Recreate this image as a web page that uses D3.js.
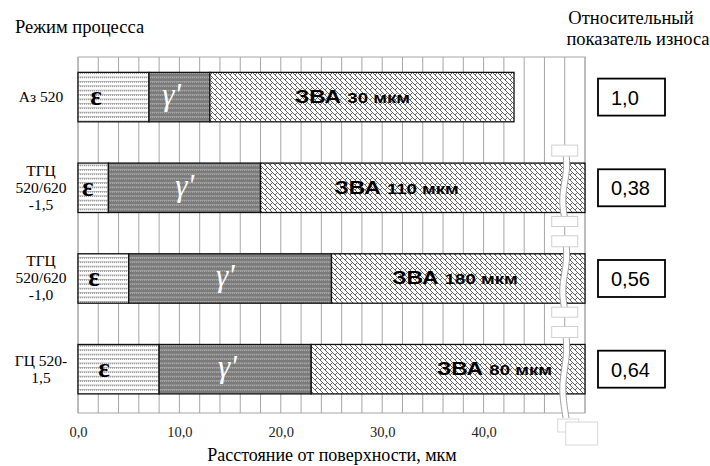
<!DOCTYPE html>
<html>
<head>
<meta charset="utf-8">
<script src="https://cdn.jsdelivr.net/npm/d3@7"></script>
<style>
  body { margin: 0; background: #fff; }
</style>
</head>
<body>
<div id="chart"></div>
<script>
// Data
var modes = ["Аз 520", "ТГЦ 520/620 -1,5", "ТГЦ 520/620 -1,0", "ГЦ 520-1,5"];
var modeLines = [["Аз 520"], ["ТГЦ", "520/620", "-1,5"], ["ТГЦ", "520/620", "-1,0"], ["ГЦ 520-", "1,5"]];
var epsEnd = [7.0, 3.0, 5.0, 8.0];        // ε layer, мкм
var gammaEnd = [13.0, 18.0, 25.0, 23.0];  // γ' layer end, мкм
var zvaEnd = [43.0, 50, 50, 50];          // ЗВА end (last three are broken)
var zvaLabel = ["30 мкм", "110 мкм", "180 мкм", "80 мкм"];
var broken = [false, true, true, true];
var wearIndex = ["1,0", "0,38", "0,56", "0,64"];
// where labels sit, in axis units
var epsAt = [1.2, 0.4, 1.0, 2.0];
var gammaAt = [8.3, 9.6, 13.6, 13.8];
var zvaAt = [21.4, 25.3, 31.0, 35.4];
var xTicks = [0, 10, 20, 30, 40];

var SERIF = "'Liberation Serif', 'Times New Roman', 'DejaVu Serif', serif",
    SANS = "'Liberation Sans', Arial, sans-serif";

var width = 710,
    height = 466;

var svg = d3.select("#chart")
            .append("svg")
              .attr("width", width)
              .attr("height", height);

var x = d3.scaleLinear()
          .domain([0, 50])
          .range([78, 585]);

var y = d3.scaleBand()
          .domain(modes)
          .range([57, 413])
          .paddingInner(0.455)
          .paddingOuter(0.19)
          .align(0.446);

// Patterns
var defs = svg.append("defs");

function dashPattern(id, bg, fg) {
  var p = defs.append("pattern")
              .attr("id", id)
              .attr("patternUnits", "userSpaceOnUse")
              .attr("width", 4)
              .attr("height", 4.4);
  p.append("rect").attr("width", 4).attr("height", 4.4).attr("fill", bg);
  p.append("path")
    .attr("d", "M0,3.2 L1.4,1.8 M2,3.2 L3.4,1.8")
    .attr("stroke", fg)
    .attr("stroke-width", 1);
}
dashPattern("pEps", "#ffffff", "#7a7a7a");
dashPattern("pGamma", "#7a7a7a", "#b8b8b8");

var pz = defs.append("pattern")
             .attr("id", "pZva")
             .attr("patternUnits", "userSpaceOnUse")
             .attr("width", 5)
             .attr("height", 5);
pz.append("rect").attr("width", 5).attr("height", 5).attr("fill", "#ffffff");
pz.append("path")
  .attr("d", "M0,0 L5,5 M-1,4 L1,6 M4,-1 L6,1 M0,5 L2.5,2.5")
  .attr("stroke", "#555")
  .attr("stroke-width", 0.9);

// Grid
svg.append("g")
  .selectAll("line")
  .data(d3.range(0, 51, 2))
  .enter()
  .append("line")
    .attr("x1", function(d) { return x(d); })
    .attr("x2", function(d) { return x(d); })
    .attr("y1", 57)
    .attr("y2", 413)
    .attr("stroke", "#a6a6a6")
    .attr("stroke-width", 1);

svg.append("rect")
  .attr("x", x(0))
  .attr("y", 57)
  .attr("width", x(50) - x(0))
  .attr("height", 356)
  .attr("fill", "none")
  .attr("stroke", "#a6a6a6");

// Bars
var segs = [];
modes.forEach(function(m, i) {
  segs.push({mode: m, x0: 0, x1: epsEnd[i], fill: "url(#pEps)"});
  segs.push({mode: m, x0: epsEnd[i], x1: gammaEnd[i], fill: "url(#pGamma)"});
  segs.push({mode: m, x0: gammaEnd[i], x1: zvaEnd[i], fill: "url(#pZva)"});
});

svg.append("g")
  .selectAll("rect")
  .data(segs)
  .enter()
  .append("rect")
    .attr("x", function(d) { return x(d.x0); })
    .attr("y", function(d) { return y(d.mode); })
    .attr("width", function(d) { return x(d.x1) - x(d.x0); })
    .attr("height", y.bandwidth())
    .attr("fill", function(d) { return d.fill; })
    .attr("stroke", "#111")
    .attr("stroke-width", 1.3);

// Labels inside bars
var cy = function(i) { return y(modes[i]) + y.bandwidth() / 2; };

svg.append("g")
  .selectAll("text")
  .data(modes)
  .enter()
  .append("text")
    .attr("x", function(d, i) { return x(epsAt[i]); })
    .attr("y", function(d, i) { return cy(i) + 8; })
    .attr("font-family", SERIF)
    .attr("font-size", 27)
    .attr("font-weight", "bold")
    .text("ε");

svg.append("g")
  .selectAll("text")
  .data(modes)
  .enter()
  .append("text")
    .attr("x", function(d, i) { return x(gammaAt[i]); })
    .attr("y", function(d, i) { return cy(i) + 8; })
    .attr("font-family", SERIF)
    .attr("font-size", 31)
    .attr("font-style", "italic")
    .attr("fill", "#fff")
    .text("γ'");

var zva = svg.append("g")
  .selectAll("text")
  .data(modes)
  .enter()
  .append("text")
    .attr("transform", function(d, i) { return "translate(" + x(zvaAt[i]) + "," + (cy(i) + 6) + ") scale(1.2,1)"; })
    .attr("font-family", SANS)
    .attr("font-weight", "bold");
zva.append("tspan").attr("font-size", 19).text("ЗВА ");
zva.append("tspan").attr("font-size", 15.5).text(function(d, i) { return zvaLabel[i]; });

// Axis break marks
var line = d3.line().curve(d3.curveBasis);
var xb = x(48);
modes.forEach(function(m, i) {
  if (!broken[i]) return;
  var top = y(m) - 18,
      bot = y(m) + y.bandwidth() + 14;
  if (i == modes.length - 1) bot = 418;
  var n = 8, left = [], right = [];
  for (var k = 0; k <= n; k++) {
    var yy = top + (bot - top) * k / n;
    var w = Math.sin(k / n * Math.PI * 2.2) * 2.2;
    left.push([xb - 3 + w, yy]);
    right.push([xb + 3 + w, yy]);
  }
  var g = svg.append("g");
  g.append("path")
    .attr("d", line(left.concat(right.slice().reverse())) + "Z")
    .attr("fill", "#fff")
    .attr("stroke", "none");
  g.append("path").attr("d", line(left)).attr("fill", "none").attr("stroke", "#a0a0a0");
  g.append("path").attr("d", line(right)).attr("fill", "none").attr("stroke", "#a0a0a0");
  g.append("rect")
    .attr("x", xb - 13).attr("y", top).attr("width", 26).attr("height", 11)
    .attr("fill", "#fff").attr("stroke", "#d0d0d0");
  if (i == modes.length - 1) {
    g.append("rect")
      .attr("x", xb - 7).attr("y", 419).attr("width", 21).attr("height", 13)
      .attr("fill", "#fff").attr("stroke", "#d8d8d8");
    g.append("rect")
      .attr("x", xb + 1).attr("y", 422).attr("width", 32).attr("height", 23)
      .attr("fill", "#fff").attr("stroke", "#d8d8d8");
  } else {
    g.append("rect")
      .attr("x", xb - 13).attr("y", y(m) + y.bandwidth() + 4).attr("width", 26).attr("height", 10)
      .attr("fill", "#fff").attr("stroke", "#d0d0d0");
  }
});

// Category labels
var cat = svg.append("g")
  .selectAll("text")
  .data(modes)
  .enter()
  .append("text")
    .attr("text-anchor", "middle")
    .attr("font-family", SERIF)
    .attr("font-size", 15.5);
cat.each(function(d, i) {
  var lines = modeLines[i];
  var t = d3.select(this);
  lines.forEach(function(l, k) {
    t.append("tspan")
      .attr("x", 41)
      .attr("y", cy(i) + 5 + (k - (lines.length - 1) / 2) * 17)
      .text(l);
  });
});

// X axis
var axis = svg.append("g")
  .attr("transform", "translate(0,424)")
  .call(d3.axisBottom(x)
          .tickValues(xTicks)
          .tickSize(0)
          .tickFormat(function(d) { return d.toFixed(1).replace(".", ","); }));
axis.select(".domain").remove();
axis.selectAll("text")
  .attr("font-size", 14.5)
  .attr("fill", "#222")
  .attr("font-family", SERIF);

svg.append("text")
  .attr("x", 332)
  .attr("y", 461)
  .attr("text-anchor", "middle")
  .attr("font-family", SERIF)
  .attr("font-size", 18)
  .text("Расстояние от поверхности, мкм");

svg.append("text")
  .attr("x", 15)
  .attr("y", 33)
  .attr("font-family", SERIF)
  .attr("font-size", 18.5)
  .text("Режим процесса");

svg.append("text")
  .attr("x", 631)
  .attr("y", 24)
  .attr("text-anchor", "middle")
  .attr("font-family", SERIF)
  .attr("font-size", 18.5)
  .text("Относительный");
svg.append("text")
  .attr("x", 638)
  .attr("y", 45)
  .attr("text-anchor", "middle")
  .attr("font-family", SERIF)
  .attr("font-size", 18.5)
  .text("показатель износа");

// Wear index boxes
var box = svg.append("g")
  .selectAll("g")
  .data(modes)
  .enter()
  .append("g")
    .attr("transform", function(d, i) { return "translate(598," + (cy(i) - 18.5) + ")"; });
box.append("rect")
  .attr("width", 67)
  .attr("height", 37)
  .attr("fill", "#fff")
  .attr("stroke", "#000")
  .attr("stroke-width", 1.8);
box.append("text")
  .attr("x", 13)
  .attr("y", 26)
  .attr("font-size", 20)
  .attr("font-family", SANS)
  .text(function(d, i) { return wearIndex[i]; });
</script>
</body>
</html>
